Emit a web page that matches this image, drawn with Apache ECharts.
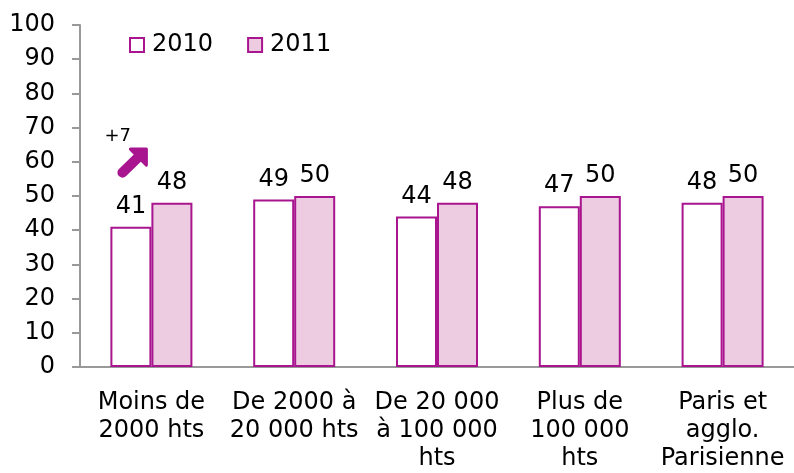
<!DOCTYPE html>
<html><head><meta charset="utf-8">
<script src="https://cdn.jsdelivr.net/npm/echarts@6/dist/echarts.min.js"></script>
<style>html,body{margin:0;padding:0;background:#fff}#c{width:794px;height:473px}</style>
</head><body><div id="c"></div>
<script>
const categories = ['Moins de\n2000 hts', 'De 2000 à\n20 000 hts', 'De 20 000\nà 100 000\nhts', 'Plus de\n100 000\nhts', 'Paris et\nagglo.\nParisienne'];
const seriesNames = ['2010', '2011'];
const values2010 = [41, 49, 44, 47, 48];
const values2011 = [48, 50, 48, 50, 50];
const yTicks = [0, 10, 20, 30, 40, 50, 60, 70, 80, 90, 100];
const annotationText = '+7';

const FONT = 'DejaVu Sans';
const MAG = '#A8158F';
const PINK = '#EDCCE1';
const chart = echarts.init(document.getElementById('c'));
const labelCfg = {show: true, position: 'top', distance: 8, color: '#000', fontFamily: FONT, fontSize: 24};
chart.setOption({
  animation: false,
  legend: {
    left: 124, top: 28, itemWidth: 14, itemHeight: 14, itemGap: 34,
    textStyle: {fontFamily: FONT, fontSize: 24, color: '#000', padding: [0, 0, 0, 3]},
    data: seriesNames.map(n => ({name: n, icon: 'rect'}))
  },
  grid: {left: 80, right: -4, top: 25, bottom: 102},
  xAxis: {
    type: 'category', data: categories,
    axisLine: {lineStyle: {color: '#999', width: 2}},
    axisTick: {length: 8, lineStyle: {color: '#999', width: 2}},
    axisLabel: {fontFamily: FONT, fontSize: 24, color: '#000', lineHeight: 28, margin: 22, interval: 0}
  },
  yAxis: {
    type: 'value', min: yTicks[0], max: yTicks[yTicks.length - 1], interval: 10,
    axisLine: {show: true, lineStyle: {color: '#999', width: 2}},
    axisTick: {show: true, length: 8, lineStyle: {color: '#999', width: 2}},
    splitLine: {show: false},
    axisLabel: {fontFamily: FONT, fontSize: 24, color: '#000', margin: 25}
  },
  series: [
    {name: seriesNames[0], type: 'bar', data: values2010, barWidth: 41, barGap: '0%',
     itemStyle: {color: '#fff', borderColor: MAG, borderWidth: 2}, label: labelCfg},
    {name: seriesNames[1], type: 'bar', data: values2011, barWidth: 41,
     itemStyle: {color: PINK, borderColor: MAG, borderWidth: 2}, label: labelCfg}
  ]
});
// annotation arrow anchored to category 0
const a = chart.convertToPixel({gridIndex: 0}, [0, 58]);
const b = chart.convertToPixel({gridIndex: 0}, [0, 64]);
const cx = a[0];
const x0 = cx - 29, y0 = a[1] + 4;
const x1 = cx - 5, y1 = b[1] + 1;
chart.setOption({
  graphic: [
    {type: 'line', shape: {x1: x0, y1: y0, x2: x1 - 7, y2: y1 + 7}, style: {stroke: MAG, lineWidth: 10, lineCap: 'round'}},
    {type: 'polygon', shape: {points: [[x1, y1], [x1 - 16, y1], [x1, y1 + 16]]}, style: {fill: MAG, stroke: MAG, lineWidth: 3, lineJoin: 'round'}},
    {type: 'text', x: cx - 47, y: b[1] - 21, style: {text: annotationText, fontFamily: FONT, fontSize: 18, fill: '#000'}}
  ]
});
</script></body></html>
